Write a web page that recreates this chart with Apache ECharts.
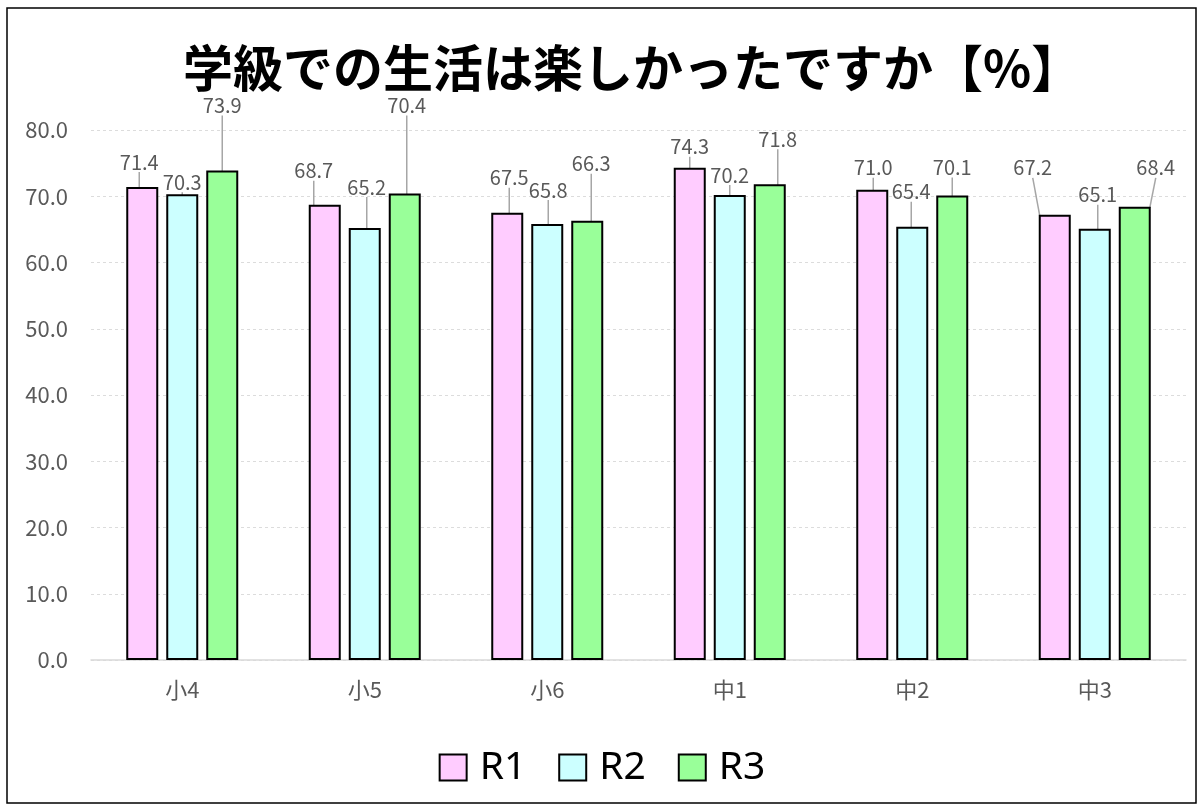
<!DOCTYPE html>
<html>
<head>
<meta charset="utf-8">
<script src="https://cdn.jsdelivr.net/npm/echarts@6/dist/echarts.min.js"></script>
<style>
html,body{margin:0;padding:0;background:#fff;}
#chart{width:1204px;height:811px;}
</style>
</head>
<body>
<div id="chart"></div>
<script>
const categories = ['小4', '小5', '小6', '中1', '中2', '中3'];
const seriesNames = ['R1', 'R2', 'R3'];
const r1 = [71.4, 68.7, 67.5, 74.3, 71.0, 67.2];
const r2 = [70.3, 65.2, 65.8, 70.2, 65.4, 65.1];
const r3 = [73.9, 70.4, 66.3, 71.8, 70.1, 68.4];
const yTicks = { min: 0, max: 80, interval: 10 };

// label nudges (style only), [dx, dy] per series per category
const labelNudge = [
  [[-3,-14],[-11,-23],[2,-24],[0,-10],[1,-11],[-22,-36]],
  [[0,-1],[2,-30],[1,-23],[0,-9],[-1,-24],[3,-23]],
  [[0,-54],[2,-77],[4,-46],[8,-34],[0,-17],[21,-28]]
];
const colors = ['#FFCCFF', '#CCFFFF', '#99FF99'];
const dataSets = [r1, r2, r3];
const FONT = '"Noto Sans CJK JP", "Noto Sans", sans-serif';

const chart = echarts.init(document.getElementById('chart'));
const series = dataSets.map((d, si) => ({
  name: seriesNames[si],
  type: 'bar',
  data: d,
  barWidth: 32,
  barGap: '25%',
  itemStyle: { color: colors[si], borderColor: '#000', borderWidth: 2 },
  label: {
    show: true,
    position: 'top',
    distance: 1,
    formatter: p => p.value.toFixed(1),
    fontFamily: FONT,
    fontSize: 20,
    color: '#595959'
  },
  labelLine: { show: true, lineStyle: { color: '#a6a6a6', width: 1.5 } },
  labelLayout: p => {
    const n = labelNudge[si][p.dataIndex];
    return { dx: n[0], dy: n[1] };
  }
}));

chart.setOption({
  animation: false,
  title: {
    text: '学級での生活は楽しかったですか【%】',
    left: 178,
    top: 38,
    textStyle: { fontFamily: FONT, fontSize: 50, fontWeight: 'bold', color: '#000' }
  },
  legend: {
    data: seriesNames,
    top: 743,
    left: 'center',
    icon: 'rect',
    itemWidth: 27,
    itemHeight: 26,
    itemGap: 32,
    textStyle: { fontFamily: '"Noto Sans", sans-serif', fontSize: 39, color: '#000', padding: [0, 0, 0, 8] }
  },
  grid: { left: 91, right: 18, top: 130, bottom: 151 },
  xAxis: {
    type: 'category',
    data: categories,
    axisLine: { lineStyle: { color: '#d9d9d9', width: 1.5 } },
    axisTick: { show: false },
    axisLabel: { fontFamily: FONT, fontSize: 22, color: '#595959', margin: 19 }
  },
  yAxis: {
    type: 'value',
    min: yTicks.min,
    max: yTicks.max,
    interval: yTicks.interval,
    axisLine: { show: false },
    axisTick: { show: false },
    splitLine: { lineStyle: { color: '#dcdcdc', type: [3, 3] } },
    axisLabel: { fontFamily: FONT, fontSize: 22, color: '#595959', margin: 23, formatter: v => v.toFixed(1) }
  },
  graphic: [{
    type: 'rect',
    shape: { x: 7, y: 8, width: 1189, height: 795 },
    style: { fill: 'none', stroke: '#000', lineWidth: 1.5 },
    silent: true
  }],
  series: series
});
</script>
</body>
</html>
